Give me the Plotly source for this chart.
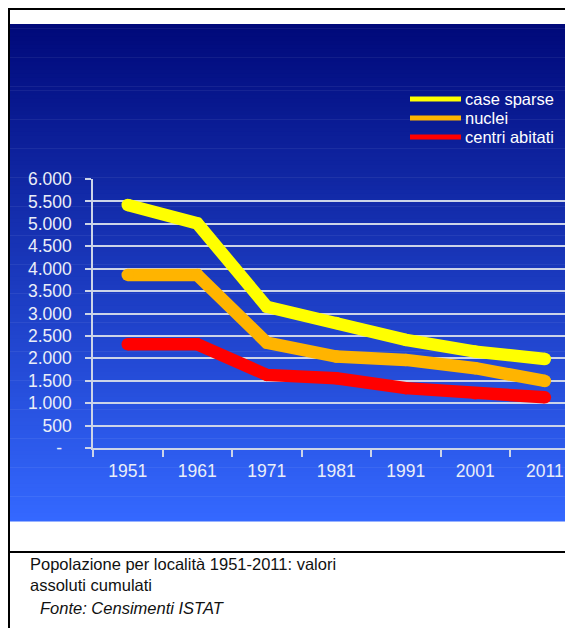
import plotly.graph_objects as go

years = ["1951", "1961", "1971", "1981", "1991", "2001", "2011"]
case_sparse = [5420, 5010, 3150, 2790, 2410, 2150, 1985]
nuclei = [3860, 3860, 2350, 2040, 1965, 1780, 1495]
centri_abitati = [2315, 2315, 1630, 1555, 1335, 1220, 1130]

series_names = ["case sparse", "nuclei", "centri abitati"]
series_colors = ["#ffff00", "#ffb400", "#ff0000"]

y_tickvals = [0, 500, 1000, 1500, 2000, 2500, 3000, 3500, 4000, 4500, 5000, 5500, 6000]
y_ticktext = ["-\u00a0\u00a0", "500", "1.000", "1.500", "2.000", "2.500", "3.000",
              "3.500", "4.000", "4.500", "5.000", "5.500", "6.000"]

caption = "Popolazione per località 1951-2011: valori<br>assoluti cumulati"
source = "Fonte: Censimenti ISTAT"

W, H = 565, 628
ML, MR, MT, MB = 93, 0, 179, 628 - 448
PW, PH = W - ML - MR, H - MT - MB


def px(xw):
    return (xw - ML) / PW


def py(yw):
    return (H - MB - yw) / PH


fig = go.Figure()
for name, vals, col in zip(series_names, [case_sparse, nuclei, centri_abitati], series_colors):
    fig.add_trace(go.Scatter(
        x=years, y=vals, name=name, mode="lines+markers", showlegend=False,
        line=dict(color=col, width=12.5),
        marker=dict(color=col, size=12.5),
    ))

shapes = []
# gradient background panel
top, bot = 24, 521
n = 120
c0 = (0, 9, 122)
c1 = (52, 104, 255)
for i in range(n):
    t = i / (n - 1)
    c = tuple(int(round(c0[k] + (c1[k] - c0[k]) * t)) for k in range(3))
    y0 = top + (bot - top) * i / n
    y1 = top + (bot - top) * (i + 1) / n + 0.6
    shapes.append(dict(type="rect", xref="paper", yref="paper", layer="below",
                       x0=px(9), x1=px(600), y0=py(y1), y1=py(y0),
                       fillcolor="rgb(%d,%d,%d)" % c, line=dict(width=0)))
# borders
shapes.append(dict(type="line", xref="paper", yref="paper", layer="above",
                   x0=px(8), x1=px(600), y0=py(9), y1=py(9),
                   line=dict(color="black", width=2)))
shapes.append(dict(type="line", xref="paper", yref="paper", layer="above",
                   x0=px(9), x1=px(9), y0=py(8), y1=py(640),
                   line=dict(color="black", width=2)))
shapes.append(dict(type="line", xref="paper", yref="paper", layer="above",
                   x0=px(9), x1=px(600), y0=py(552), y1=py(552),
                   line=dict(color="black", width=2)))

font_family = "Arial, Liberation Sans, sans-serif"

# custom compact legend
legend_rows = [99, 118, 137]
annotations = []
for name, col, yr in zip(series_names, series_colors, legend_rows):
    shapes.append(dict(type="line", xref="paper", yref="paper", layer="above",
                       x0=px(410), x1=px(461), y0=py(yr), y1=py(yr),
                       line=dict(color=col, width=5)))
    annotations.append(dict(xref="paper", yref="paper", x=px(463), y=py(yr),
                            xanchor="left", yanchor="middle", text=name, showarrow=False,
                            font=dict(size=16.5, color="white", family=font_family)))

annotations += [
    dict(xref="paper", yref="paper", x=px(28), y=py(553), xanchor="left", yanchor="top",
         text=caption, showarrow=False, align="left",
         font=dict(size=16.5, color="#111111", family=font_family)),
    dict(xref="paper", yref="paper", x=px(38), y=py(597), xanchor="left", yanchor="top",
         text="<i>" + source + "</i>", showarrow=False, align="left",
         font=dict(size=16.5, color="#111111", family=font_family)),
]

fig.update_layout(
    width=W, height=H,
    margin=dict(l=ML, r=MR, t=MT, b=MB, pad=0),
    paper_bgcolor="white",
    plot_bgcolor="rgba(0,0,0,0)",
    font=dict(family=font_family, color="#e8ecf8"),
    shapes=shapes,
    showlegend=False,
    xaxis=dict(
        type="category", range=[-0.5, 6.29],
        showgrid=False, showline=True, linecolor="#ccd4e8", linewidth=1.5,
        ticks="outside", ticklen=7, tickwidth=1.5, tickcolor="#ccd4e8",
        tickson="boundaries", tickfont=dict(size=17.5, color="#eaeef8"),
        ticklabelstandoff=6, zeroline=False,
    ),
    yaxis=dict(
        range=[0, 6000], tickvals=y_tickvals, ticktext=y_ticktext,
        showgrid=True, gridcolor="#ccd4e8", gridwidth=1.5,
        showline=True, linecolor="#ccd4e8", linewidth=1.5,
        ticks="outside", ticklen=6, tickwidth=1.5, tickcolor="#ccd4e8",
        tickfont=dict(size=17.5, color="#eaeef8"),
        ticklabelstandoff=10, zeroline=False,
    ),
    annotations=annotations,
)

fig.write_html(
    "out.html",
    config={"displayModeBar": False},
    post_script="document.body.style.margin='0';document.body.style.overflow='hidden';",
)
